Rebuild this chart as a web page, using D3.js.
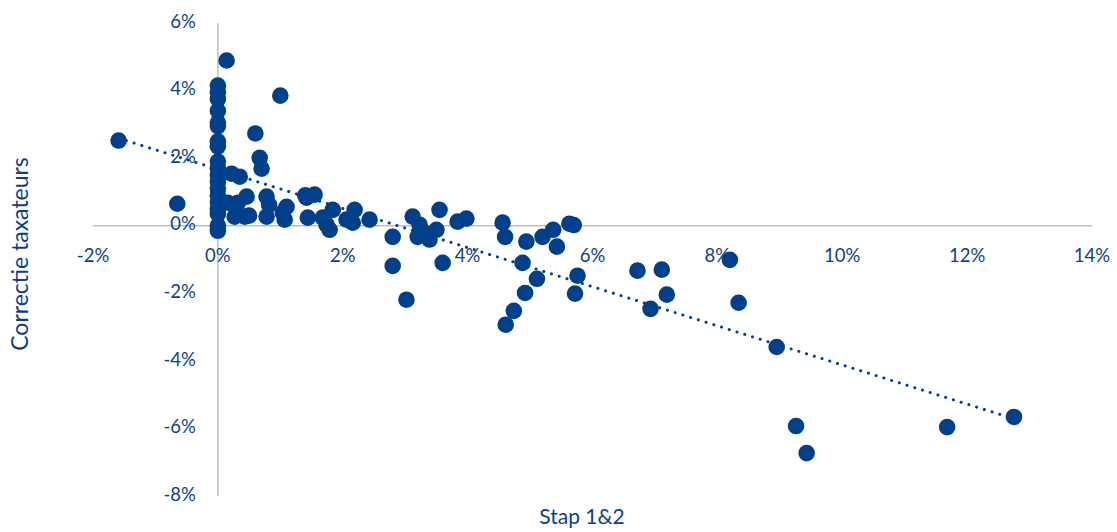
<!DOCTYPE html>
<html>
<head>
<meta charset="utf-8">
<script src="https://cdn.jsdelivr.net/npm/d3@7"></script>
<style>
  body { margin: 0; background: #fff; }
  #chart { width: 1117px; height: 532px; }
  text { font-family: Lato, "Open Sans", sans-serif; fill: #0d3f86; }
</style>
</head>
<body>
<div id="chart"></div>
<script>
// Stap 1&2 (x, %) tegen correctie taxateurs (y, %)
const stapX = [
  0, 0, 0, 0, 0, 0, 0, 0, 0, 0, 0, 0, 0, 0, 0, 0, 0, 0, 0,
  0.14, 1.00, 0.60, 0.67, 0.70, -1.59, -0.65, 0.22, 0.35, 0.46,
  0.27, 0.43, 0.78, 0.78, 1.07, 1.10, 0.16, 0.32, 1.55, 1.42,
  1.44, 1.68, 1.84, 1.79, 1.74, 2.19, 2.16, 2.43, 2.80, 1.04,
  2.06, 3.12, 3.55, 3.23, 3.31, 3.39, 3.50, 3.20, 3.84, 3.98,
  4.56, 4.60, 4.94, 5.20, 5.37, 5.43, 5.63, 5.70, 2.80, 3.02,
  3.60, 4.88, 5.11, 4.92, 4.74, 4.61, 5.76, 5.72, 6.72, 7.11,
  7.19, 6.93, 8.20, 8.34, 8.95, 9.26, 9.43, 11.68, 12.75,
  0.50, 0.29, 0.82, 1.40
];
const correctieY = [
  4.15, 3.95, 3.75, 3.40, 3.05, 2.95, 2.50, 2.35, 1.90, 1.70,
  1.50, 1.30, 1.10, 0.90, 0.70, 0.50, 0.35, 0.00, -0.15,
  4.89, 3.85, 2.73, 2.01, 1.69, 2.52, 0.65, 1.54, 1.45, 0.86,
  0.27, 0.27, 0.86, 0.27, 0.18, 0.56, 0.68, 0.68, 0.92, 0.83,
  0.24, 0.24, 0.47, -0.12, 0.03, 0.47, 0.09, 0.18, -0.33, 0.39,
  0.18, 0.27, 0.47, 0.03, -0.21, -0.41, -0.12, -0.33, 0.12, 0.21,
  0.09, -0.33, -0.47, -0.33, -0.12, -0.62, 0.06, 0.02, -1.19, -2.19,
  -1.10, -1.10, -1.57, -1.99, -2.52, -2.93, -1.48, -2.01, -1.33, -1.30,
  -2.04, -2.46, -1.01, -2.28, -3.59, -5.93, -6.73, -5.96, -5.66,
  0.30, 0.55, 0.62, 0.90
];
const xTicks = [-2, 0, 2, 4, 6, 8, 10, 12, 14];
const yTicks = [-8, -6, -4, -2, 0, 2, 4, 6];

function renderScatter() {
  const container = document.getElementById("chart");
  const data = stapX.map((x, i) => ({ x, y: correctieY[i] }));

  const svg = d3.select(container)
    .append("svg")
    .attr("width", 1117)
    .attr("height", 532);

  // Schalen
  const x = d3.scaleLinear().domain([-2, 14]).range([93, 1092]);
  const y = d3.scaleLinear().domain([-8, 6]).range([496, 23]);

  const axisColor = "#bfbfbf";
  const blue = "#00408a";

  // Assen (kruisen bij 0)
  svg.append("line")
    .attr("x1", x(-2)).attr("x2", x(14))
    .attr("y1", y(0)).attr("y2", y(0))
    .attr("stroke", axisColor).attr("stroke-width", 1.5);
  svg.append("line")
    .attr("x1", x(0)).attr("x2", x(0))
    .attr("y1", y(6)).attr("y2", y(-8))
    .attr("stroke", axisColor).attr("stroke-width", 1.5);

  // Tick labels
  svg.append("g").selectAll("text")
    .data(xTicks)
    .join("text")
    .attr("x", d => x(d))
    .attr("y", y(0) + 32)
    .attr("text-anchor", "middle")
    .attr("dominant-baseline", "middle")
    .attr("font-size", 18.5)
    .text(d => d + "%");

  svg.append("g").selectAll("text")
    .data(yTicks)
    .join("text")
    .attr("x", x(0) - 22)
    .attr("y", d => y(d))
    .attr("text-anchor", "end")
    .attr("dominant-baseline", "middle")
    .attr("font-size", 18.5)
    .text(d => d + "%");

  // Punten
  svg.append("g").selectAll("circle")
    .data(data)
    .join("circle")
    .attr("cx", d => x(d.x))
    .attr("cy", d => y(d.y))
    .attr("r", 8.3)
    .attr("fill", blue);

  // Lineaire trendlijn (kleinste kwadraten)
  const mx = d3.mean(data, d => d.x);
  const my = d3.mean(data, d => d.y);
  const slope = d3.sum(data, d => (d.x - mx) * (d.y - my)) / d3.sum(data, d => (d.x - mx) ** 2);
  const icpt = my - slope * mx;
  const [x0, x1] = d3.extent(data, d => d.x);

  svg.append("line")
    .attr("x1", x(x0)).attr("y1", y(icpt + slope * x0))
    .attr("x2", x(x1)).attr("y2", y(icpt + slope * x1))
    .attr("stroke", blue)
    .attr("stroke-width", 3)
    .attr("stroke-linecap", "round")
    .attr("stroke-dasharray", "0.1 8");

  // Astitels
  svg.append("text")
    .attr("transform", `translate(28,254) rotate(-90)`)
    .attr("text-anchor", "middle")
    .attr("font-size", 23)
    .text("Correctie taxateurs");

  svg.append("text")
    .attr("x", 582)
    .attr("y", 524)
    .attr("text-anchor", "middle")
    .attr("font-size", 21)
    .text("Stap 1&2");
}

renderScatter();
</script>
</body>
</html>
